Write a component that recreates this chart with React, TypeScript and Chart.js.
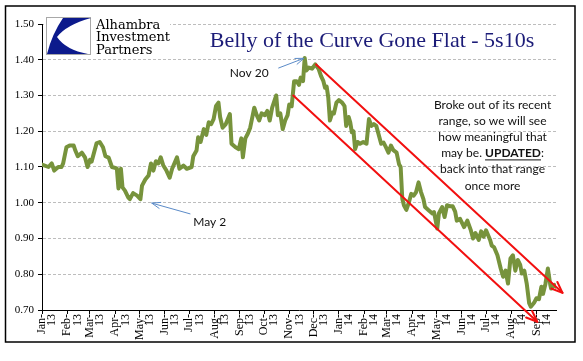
import React, { useEffect, useRef } from "react";
import { Chart, registerables } from "chart.js";
Chart.register(...registerables);

// ---- data (day offset from 1 Jan 2013, spread value) ----
const DAYS = [0, 8, 12, 15, 20, 24, 26, 30, 34, 39, 41, 44, 49, 53, 56, 59, 61, 67, 71, 75, 78, 82, 86, 92, 94, 97, 99, 102, 106, 108, 112, 117, 121, 123, 127, 131, 134, 137, 140, 143, 146, 149, 153, 157, 160, 166, 169, 174, 178, 184, 186, 190, 192, 195, 199, 202, 205, 208, 211, 214, 217, 219, 222, 226, 231, 233, 238, 242, 245, 247, 250, 253, 256, 261, 264, 267, 270, 274, 277, 280, 283, 288, 290, 293, 296, 299, 302, 304, 307, 310, 313, 316, 318, 321, 323, 325, 328, 332, 336, 340, 343, 346, 348, 350, 352, 354, 357, 359, 362, 365, 369, 372, 374, 377, 379, 381, 383, 385, 388, 391, 395, 399, 402, 405, 408, 411, 414, 417, 420, 423, 426, 429, 432, 436, 439, 441, 443, 445, 448, 451, 454, 457, 460, 463, 466, 469, 471, 475, 480, 482, 486, 488, 492, 495, 498, 502, 505, 508, 510, 514, 519, 523, 527, 530, 533, 537, 540, 543, 546, 551, 553, 556, 560, 564, 567, 570, 573, 576, 579, 582, 585, 588, 590, 593, 596, 599, 601, 605, 608, 611, 614, 616, 619, 622, 625, 626, 630, 632];
const VALUES = [1.107, 1.1, 1.11, 1.09, 1.1, 1.1, 1.11, 1.155, 1.16, 1.16, 1.146, 1.13, 1.14, 1.126, 1.1, 1.12, 1.115, 1.166, 1.17, 1.155, 1.13, 1.126, 1.1, 1.096, 1.04, 1.095, 1.043, 1.034, 1.015, 1.01, 1.027, 1.02, 1.01, 1.048, 1.065, 1.076, 1.11, 1.09, 1.116, 1.11, 1.127, 1.105, 1.09, 1.07, 1.095, 1.127, 1.095, 1.104, 1.095, 1.1, 1.13, 1.146, 1.183, 1.17, 1.206, 1.19, 1.225, 1.22, 1.234, 1.271, 1.28, 1.24, 1.21, 1.22, 1.248, 1.165, 1.155, 1.15, 1.18, 1.127, 1.18, 1.193, 1.21, 1.266, 1.245, 1.23, 1.25, 1.245, 1.257, 1.23, 1.266, 1.3, 1.245, 1.25, 1.206, 1.23, 1.245, 1.275, 1.27, 1.34, 1.34, 1.33, 1.35, 1.34, 1.405, 1.37, 1.378, 1.375, 1.387, 1.375, 1.355, 1.34, 1.322, 1.325, 1.294, 1.23, 1.252, 1.25, 1.28, 1.287, 1.28, 1.27, 1.215, 1.24, 1.225, 1.197, 1.2, 1.15, 1.17, 1.165, 1.17, 1.165, 1.234, 1.215, 1.22, 1.215, 1.19, 1.165, 1.168, 1.155, 1.14, 1.16, 1.147, 1.14, 1.108, 1.1, 1.011, 0.993, 0.98, 1.0, 1.025, 1.02, 1.03, 1.057, 1.03, 1.01, 0.988, 0.98, 0.97, 0.974, 0.928, 0.97, 0.988, 0.96, 0.993, 0.99, 0.99, 0.975, 0.95, 0.955, 0.932, 0.95, 0.925, 0.9, 0.915, 0.896, 0.92, 0.905, 0.923, 0.896, 0.88, 0.875, 0.853, 0.816, 0.793, 0.81, 0.774, 0.844, 0.853, 0.81, 0.84, 0.826, 0.802, 0.81, 0.774, 0.719, 0.709, 0.72, 0.733, 0.73, 0.765, 0.745, 0.773, 0.816, 0.77, 0.76, 0.77, 0.765];

const MONTH_TICK_DAYS = [0, 31, 59, 90, 120, 151, 181, 212, 243, 273, 304, 334, 365, 396, 424, 455, 485, 516, 546, 577, 608];
const MONTH_TICK_LABELS = [
  ["Jan-", "13"], ["Feb-", "13"], ["Mar-", "13"], ["Apr-", "13"], ["May-", "13"], ["Jun-", "13"],
  ["Jul-", "13"], ["Aug-", "13"], ["Sep-", "13"], ["Oct-", "13"], ["Nov-", "13"], ["Dec-", "13"],
  ["Jan-", "14"], ["Feb-", "14"], ["Mar-", "14"], ["Apr-", "14"], ["May-", "14"], ["Jun-", "14"],
  ["Jul-", "14"], ["Aug-", "14"], ["Sep-", "14"],
];
const X_MIN = 0;
const X_MAX = 632;
const Y_MIN = 0.7;
const Y_MAX = 1.5;
const Y_STEP = 0.1;

// trend channel arrows (data coordinates: [start, end])
const UPPER_TREND_X = [337, 640];
const UPPER_TREND_Y = [1.387, 0.748];
const LOWER_TREND_X = [309, 609];
const LOWER_TREND_Y = [1.3, 0.667];

// callouts
const NOTE_TEXTS = ["Nov 20", "May 2"];
const NOTE_X = [231, 186];
const NOTE_Y = [1.363, 0.945];
const NOTE_ARROW_TAIL_X = [291, 182];
const NOTE_ARROW_TAIL_Y = [1.377, 0.969];
const NOTE_ARROW_TIP_X = [322, 135];
const NOTE_ARROW_TIP_Y = [1.404, 0.999];

const COMMENT_LINES = ["Broke out of its recent", "range, so we will see", "how meaningful that", "", "back into that range", "once more"];
const COMMENT_X = 554;
const COMMENT_Y = 1.274;

const TITLE = "Belly of the Curve Gone Flat - 5s10s";
const LOGO_LINES = ["Alhambra", "Investment", "Partners"];

function drawArrow(ctx: CanvasRenderingContext2D, x1: number, y1: number, x2: number, y2: number, color: string, width: number, head: number, angle: number) {
  ctx.save();
  ctx.strokeStyle = color;
  ctx.lineWidth = width;
  ctx.lineCap = "round";
  ctx.lineJoin = "round";
  ctx.beginPath();
  ctx.moveTo(x1, y1);
  ctx.lineTo(x2, y2);
  ctx.stroke();
  const a = Math.atan2(y2 - y1, x2 - x1);
  ctx.beginPath();
  ctx.moveTo(x2 - head * Math.cos(a - angle), y2 - head * Math.sin(a - angle));
  ctx.lineTo(x2, y2);
  ctx.lineTo(x2 - head * Math.cos(a + angle), y2 - head * Math.sin(a + angle));
  ctx.stroke();
  ctx.restore();
}

const decorPlugin = {
  id: "decor",
  beforeDraw(chart: any) {
    const ctx = chart.ctx;
    ctx.save();
    ctx.fillStyle = "#ffffff";
    ctx.fillRect(0, 0, chart.width, chart.height);
    ctx.restore();
  },
  afterDatasetsDraw(chart: any) {
    const ctx = chart.ctx;
    const xs = chart.scales.x;
    const ys = chart.scales.y;
    const px = (v: number) => xs.getPixelForValue(v);
    const py = (v: number) => ys.getPixelForValue(v);
    drawArrow(ctx, px(UPPER_TREND_X[0]), py(UPPER_TREND_Y[0]), px(UPPER_TREND_X[1]), py(UPPER_TREND_Y[1]), "#f21010", 2, 12, 0.38);
    drawArrow(ctx, px(LOWER_TREND_X[0]), py(LOWER_TREND_Y[0]), px(LOWER_TREND_X[1]), py(LOWER_TREND_Y[1]), "#f21010", 2, 12, 0.38);
    for (let i = 0; i < NOTE_TEXTS.length; i++) {
      drawArrow(ctx, px(NOTE_ARROW_TAIL_X[i]), py(NOTE_ARROW_TAIL_Y[i]), px(NOTE_ARROW_TIP_X[i]), py(NOTE_ARROW_TIP_Y[i]), "#5b8bc8", 1, 9, 0.35);
    }
  },
  afterDraw(chart: any) {
    const ctx: CanvasRenderingContext2D = chart.ctx;
    const xs = chart.scales.x;
    const ys = chart.scales.y;
    const px = (v: number) => xs.getPixelForValue(v);
    const py = (v: number) => ys.getPixelForValue(v);
    ctx.save();
    // callout labels
    ctx.fillStyle = "#111";
    ctx.font = "12px Lato";
    ctx.textBaseline = "middle";
    ctx.textAlign = "left";
    for (let i = 0; i < NOTE_TEXTS.length; i++) {
      ctx.fillText(NOTE_TEXTS[i], px(NOTE_X[i]), py(NOTE_Y[i]));
    }
    // comment block
    const cx = px(COMMENT_X);
    const cy = py(COMMENT_Y);
    const lh = 16.2;
    ctx.textAlign = "center";
    COMMENT_LINES.forEach((t, i) => {
      if (t) ctx.fillText(t, cx, cy + i * lh);
    });
    {
      const y = cy + 3 * lh;
      const a = "may be. ";
      const b = "UPDATED";
      const c = ":";
      ctx.font = "12px Lato";
      const wa = ctx.measureText(a).width;
      const wc = ctx.measureText(c).width;
      ctx.font = "bold 12px Lato";
      const wb = ctx.measureText(b).width;
      let x = cx - (wa + wb + wc) / 2;
      ctx.textAlign = "left";
      ctx.font = "12px Lato";
      ctx.fillText(a, x, y);
      x += wa;
      ctx.font = "bold 12px Lato";
      ctx.fillText(b, x, y);
      ctx.fillRect(x, y + 6, wb, 1);
      x += wb;
      ctx.font = "12px Lato";
      ctx.fillText(c, x, y);
    }
    // title
    ctx.textAlign = "center";
    ctx.textBaseline = "alphabetic";
    ctx.fillStyle = "#1c1c78";
    ctx.font = "22px 'Liberation Serif'";
    ctx.fillText(TITLE, 372, 47);
    // logo
    ctx.fillStyle = "#ffffff";
    ctx.fillRect(44, 14, 126, 44);
    ctx.strokeStyle = "#a8a8a8";
    ctx.lineWidth = 1;
    ctx.strokeRect(46.5, 17.5, 44, 37);
    ctx.fillStyle = "#0c1a8c";
    ctx.beginPath();
    ctx.moveTo(63, 18);
    ctx.lineTo(91, 18);
    ctx.quadraticCurveTo(66, 25, 57, 37);
    ctx.quadraticCurveTo(66, 50, 88, 54);
    ctx.lineTo(47, 54);
    ctx.quadraticCurveTo(52, 34, 63, 18);
    ctx.closePath();
    ctx.fill();
    ctx.fillStyle = "#000";
    ctx.textAlign = "left";
    ctx.font = "13px 'DejaVu Serif'";
    LOGO_LINES.forEach((t, i) => ctx.fillText(t, 96, 28.5 + i * 12.5));
    // outer frame
    ctx.strokeStyle = "#000";
    ctx.lineWidth = 1.5;
    ctx.strokeRect(5.5, 6, 569.5, 336);
    ctx.restore();
  },
};

export default function App() {
  const ref = useRef<HTMLCanvasElement | null>(null);
  useEffect(() => {
    if (!ref.current) return;
    const chart = new Chart(ref.current, {
      type: "line",
      data: {
        datasets: [
          {
            data: DAYS.map((d, i) => ({ x: d, y: VALUES[i] })),
            borderColor: "#77933c",
            borderWidth: 4,
            pointRadius: 0,
            tension: 0,
            borderJoinStyle: "round",
            borderCapStyle: "round",
            fill: false,
          },
        ],
      },
      options: {
        animation: false,
        responsive: false,
        devicePixelRatio: 1,
        layout: { padding: { left: 0, top: 24, right: 27, bottom: 0 } },
        plugins: { legend: { display: false }, tooltip: { enabled: false } },
        scales: {
          x: {
            type: "linear",
            min: X_MIN,
            max: X_MAX,
            afterBuildTicks: (s: any) => {
              s.ticks = MONTH_TICK_DAYS.map((v) => ({ value: v }));
            },
            afterFit: (s: any) => {
              s.height = 51;
              s.paddingLeft = 0;
              s.paddingRight = 0;
            },
            ticks: {
              autoSkip: false,
              minRotation: 90,
              maxRotation: 90,
              padding: 0,
              color: "#000",
              font: { family: "'Liberation Serif'", size: 12, lineHeight: 0.85 },
              callback: (_v: any, i: number) => MONTH_TICK_LABELS[i],
            },
            grid: { drawOnChartArea: false, drawTicks: true, tickLength: 4, tickColor: "#000", tickWidth: 1 },
            border: { display: true, color: "#000", width: 1 },
          },
          y: {
            min: Y_MIN,
            max: Y_MAX,
            afterFit: (s: any) => {
              s.width = 42;
              s.paddingTop = 0;
              s.paddingBottom = 0;
            },
            ticks: {
              stepSize: Y_STEP,
              padding: 4,
              color: "#000",
              font: { family: "'Liberation Serif'", size: 11 },
              callback: (v: any) => Number(v).toFixed(2),
            },
            grid: {
              color: (c: any) => (c.tick && Math.abs(c.tick.value - Y_MIN) < 1e-6 ? "rgba(0,0,0,0)" : "#bdbdbd"),
              lineWidth: 1,
              drawTicks: true,
              tickLength: 4,
              tickColor: "#000",
            },
            border: { display: true, color: "#000", width: 1, dash: [3, 2] },
          },
        },
      },
      plugins: [decorPlugin],
    } as any);
    return () => chart.destroy();
  }, []);
  return (
    <div style={{ position: "absolute", left: 0, top: 0, width: 583, height: 361, background: "#fff" }}>
      <canvas ref={ref} width={583} height={361} style={{ width: 583, height: 361, display: "block" }} />
    </div>
  );
}
